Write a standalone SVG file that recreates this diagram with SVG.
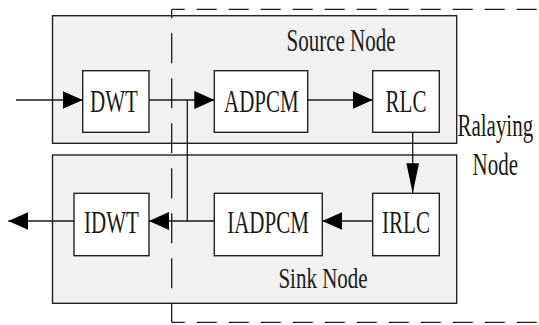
<svg xmlns="http://www.w3.org/2000/svg" width="539" height="325" viewBox="0 0 539 325">
<style>
.grp{fill:#f1f1f1;stroke:#222;stroke-width:1.4}
.blk{fill:#fff;stroke:#222;stroke-width:1.4}
.ln{fill:none;stroke:#1a1a1a;stroke-width:1.3}
.dash{fill:none;stroke:#1a1a1a;stroke-width:1.3}
text{font-family:"Liberation Serif","Times New Roman",serif;font-size:21px;fill:#1a1a1a;text-anchor:middle}
</style>
<defs>
<marker id="ah" markerUnits="userSpaceOnUse" markerWidth="20" markerHeight="18" viewBox="0 -9 20 18" refX="20" refY="0" orient="auto"><path d="M0,-9 L20,0 L0,9z" fill="#000"/></marker>
<marker id="av" markerUnits="userSpaceOnUse" markerWidth="30" markerHeight="13" viewBox="0 -6.5 30 13" refX="30" refY="0" orient="auto"><path d="M0,-6.3 L30,0 L0,6.3z" fill="#000"/></marker>
</defs>
<g id="source-node">
<rect class="grp" x="52.5" y="15.7" width="404.2" height="127.6"/>
<text transform="translate(341,50.5) scale(1,1.5)">Source Node</text>
</g>
<g id="sink-node">
<rect class="grp" x="52.5" y="155" width="404.2" height="148.3"/>
<text transform="translate(323,288.3) scale(1,1.45)">Sink Node</text>
</g>
<g id="relaying-node">
<path class="dash" d="M171.7,9.3 H539" stroke-dasharray="20 12" stroke-dashoffset="7"/>
<path class="dash" d="M171.7,9.3 V322.3" stroke-dasharray="30 15" stroke-dashoffset="21"/>
<path class="dash" d="M171.7,322.3 H539" stroke-dasharray="20 12" stroke-dashoffset="7"/>
<text transform="translate(495.3,135.5) scale(1,1.5)">Ralaying</text>
<text transform="translate(495.3,175) scale(1,1.5)">Node</text>
</g>
<g id="dwt">
<rect class="blk" x="82.7" y="70.7" width="66.3" height="61.6"/>
<text transform="translate(114,111.7) scale(1,1.55)">DWT</text>
</g>
<g id="adpcm">
<rect class="blk" x="214.3" y="70.7" width="93.4" height="61.6"/>
<text transform="translate(261.3,111.7) scale(1,1.55)">ADPCM</text>
</g>
<g id="rlc">
<rect class="blk" x="372.7" y="70.7" width="66.6" height="61.6"/>
<text transform="translate(406,111.7) scale(1,1.55)">RLC</text>
</g>
<g id="idwt">
<rect class="blk" x="74" y="193.3" width="75" height="62.4"/>
<text transform="translate(111.5,233.3) scale(1,1.55)">IDWT</text>
</g>
<g id="iadpcm">
<rect class="blk" x="214.3" y="193.3" width="108" height="62.4"/>
<text transform="translate(268,233.3) scale(1,1.55)">IADPCM</text>
</g>
<g id="irlc">
<rect class="blk" x="372.7" y="193.3" width="66.6" height="62.4"/>
<text transform="translate(406,233.3) scale(1,1.55)">IRLC</text>
</g>
<g id="connectors">
<path class="ln" d="M16,100 H82.7" marker-end="url(#ah)"/>
<path class="ln" d="M149,100 H214.3" marker-end="url(#ah)"/>
<path class="ln" d="M187.3,100 V221"/>
<path class="ln" d="M307.7,100 H372.7" marker-end="url(#ah)"/>
<path class="ln" d="M412.7,132.3 V193.3" marker-end="url(#av)"/>
<path class="ln" d="M372.7,221 H322.3" marker-end="url(#ah)"/>
<path class="ln" d="M214.3,221 H149" marker-end="url(#ah)"/>
<path class="ln" d="M74,221 H8.3" marker-end="url(#ah)"/>
</g>
</svg>
